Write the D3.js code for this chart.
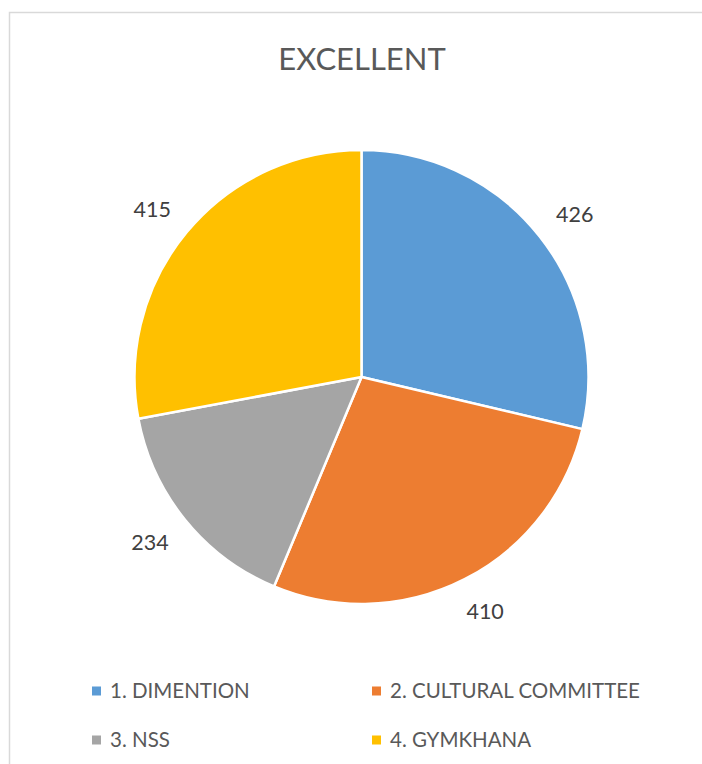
<!DOCTYPE html>
<html>
<head>
<meta charset="utf-8">
<script src="https://cdn.jsdelivr.net/npm/d3@7"></script>
<style>
  body { margin: 0; background: #fff; }
  svg { display: block; font-family: Lato, "Open Sans", sans-serif; }
</style>
</head>
<body>
<svg width="702" height="764"></svg>
<script>
var categories = ['1. DIMENTION', '2. CULTURAL COMMITTEE', '3. NSS', '4. GYMKHANA']
var values = [426, 410, 234, 415]
var colors = ['#5b9bd5', '#ed7d31', '#a5a5a5', '#ffc000']

var svg = d3.select('svg')
var width = +svg.attr('width')
var height = +svg.attr('height')

// chart frame (only top and left edges are in view)
svg.append('path')
    .attr('d', 'M9.5,' + height + 'V12.5H' + width)
    .attr('fill', 'none')
    .attr('stroke', '#d9d9d9')
    .attr('stroke-width', 1.5)

svg.append('text')
    .attr('x', 362)
    .attr('y', 70)
    .attr('text-anchor', 'middle')
    .attr('fill', '#595959')
    .style('font-size', '31px')
    .text('EXCELLENT')

var cx = 361.5
var cy = 377
var radius = 227

var data = categories.map((c, i) => ({ name: c, value: values[i], color: colors[i] }))

var pie = d3.pie().sort(null).value(d => d.value)
var arc = d3.arc().innerRadius(0).outerRadius(radius)
var anchorArc = d3.arc().innerRadius(252).outerRadius(252)

var g = svg.append('g').attr('transform', 'translate(' + cx + ',' + cy + ')')
var arcs = pie(data)

g.selectAll('path')
    .data(arcs)
    .enter().append('path')
      .attr('d', arc)
      .attr('fill', d => d.data.color)
      .attr('stroke', '#fff')
      .attr('stroke-width', 2.5)
      .attr('stroke-linejoin', 'round')

// outside-end labels: push the label box outward from its anchor point
var boxW = 40
var boxH = 22
function labelPos (d) {
  var p = anchorArc.centroid(d)
  var a = (d.startAngle + d.endAngle) / 2
  return [p[0] + boxW / 2 * Math.sin(a), p[1] - boxH / 2 * Math.cos(a)]
}

g.selectAll('text')
    .data(arcs)
    .enter().append('text')
      .attr('transform', d => 'translate(' + labelPos(d) + ')')
      .attr('text-anchor', 'middle')
      .attr('dy', '0.36em')
      .attr('fill', '#404040')
      .style('font-size', '21.5px')
      .text(d => d.data.value)

// legend, two columns
var legend = svg.append('g')
    .selectAll('g')
    .data(data)
    .enter().append('g')
      .attr('transform', (d, i) => 'translate(' + (i % 2 === 0 ? 92 : 372) + ',' + (i < 2 ? 691 : 740) + ')')

legend.append('rect')
    .attr('x', 0)
    .attr('y', -4.5)
    .attr('width', 9)
    .attr('height', 9)
    .attr('fill', d => d.color)

legend.append('text')
    .attr('x', 18)
    .attr('dy', '0.36em')
    .attr('fill', '#595959')
    .style('font-size', '20.5px')
    .text(d => d.name)
</script>
</body>
</html>
